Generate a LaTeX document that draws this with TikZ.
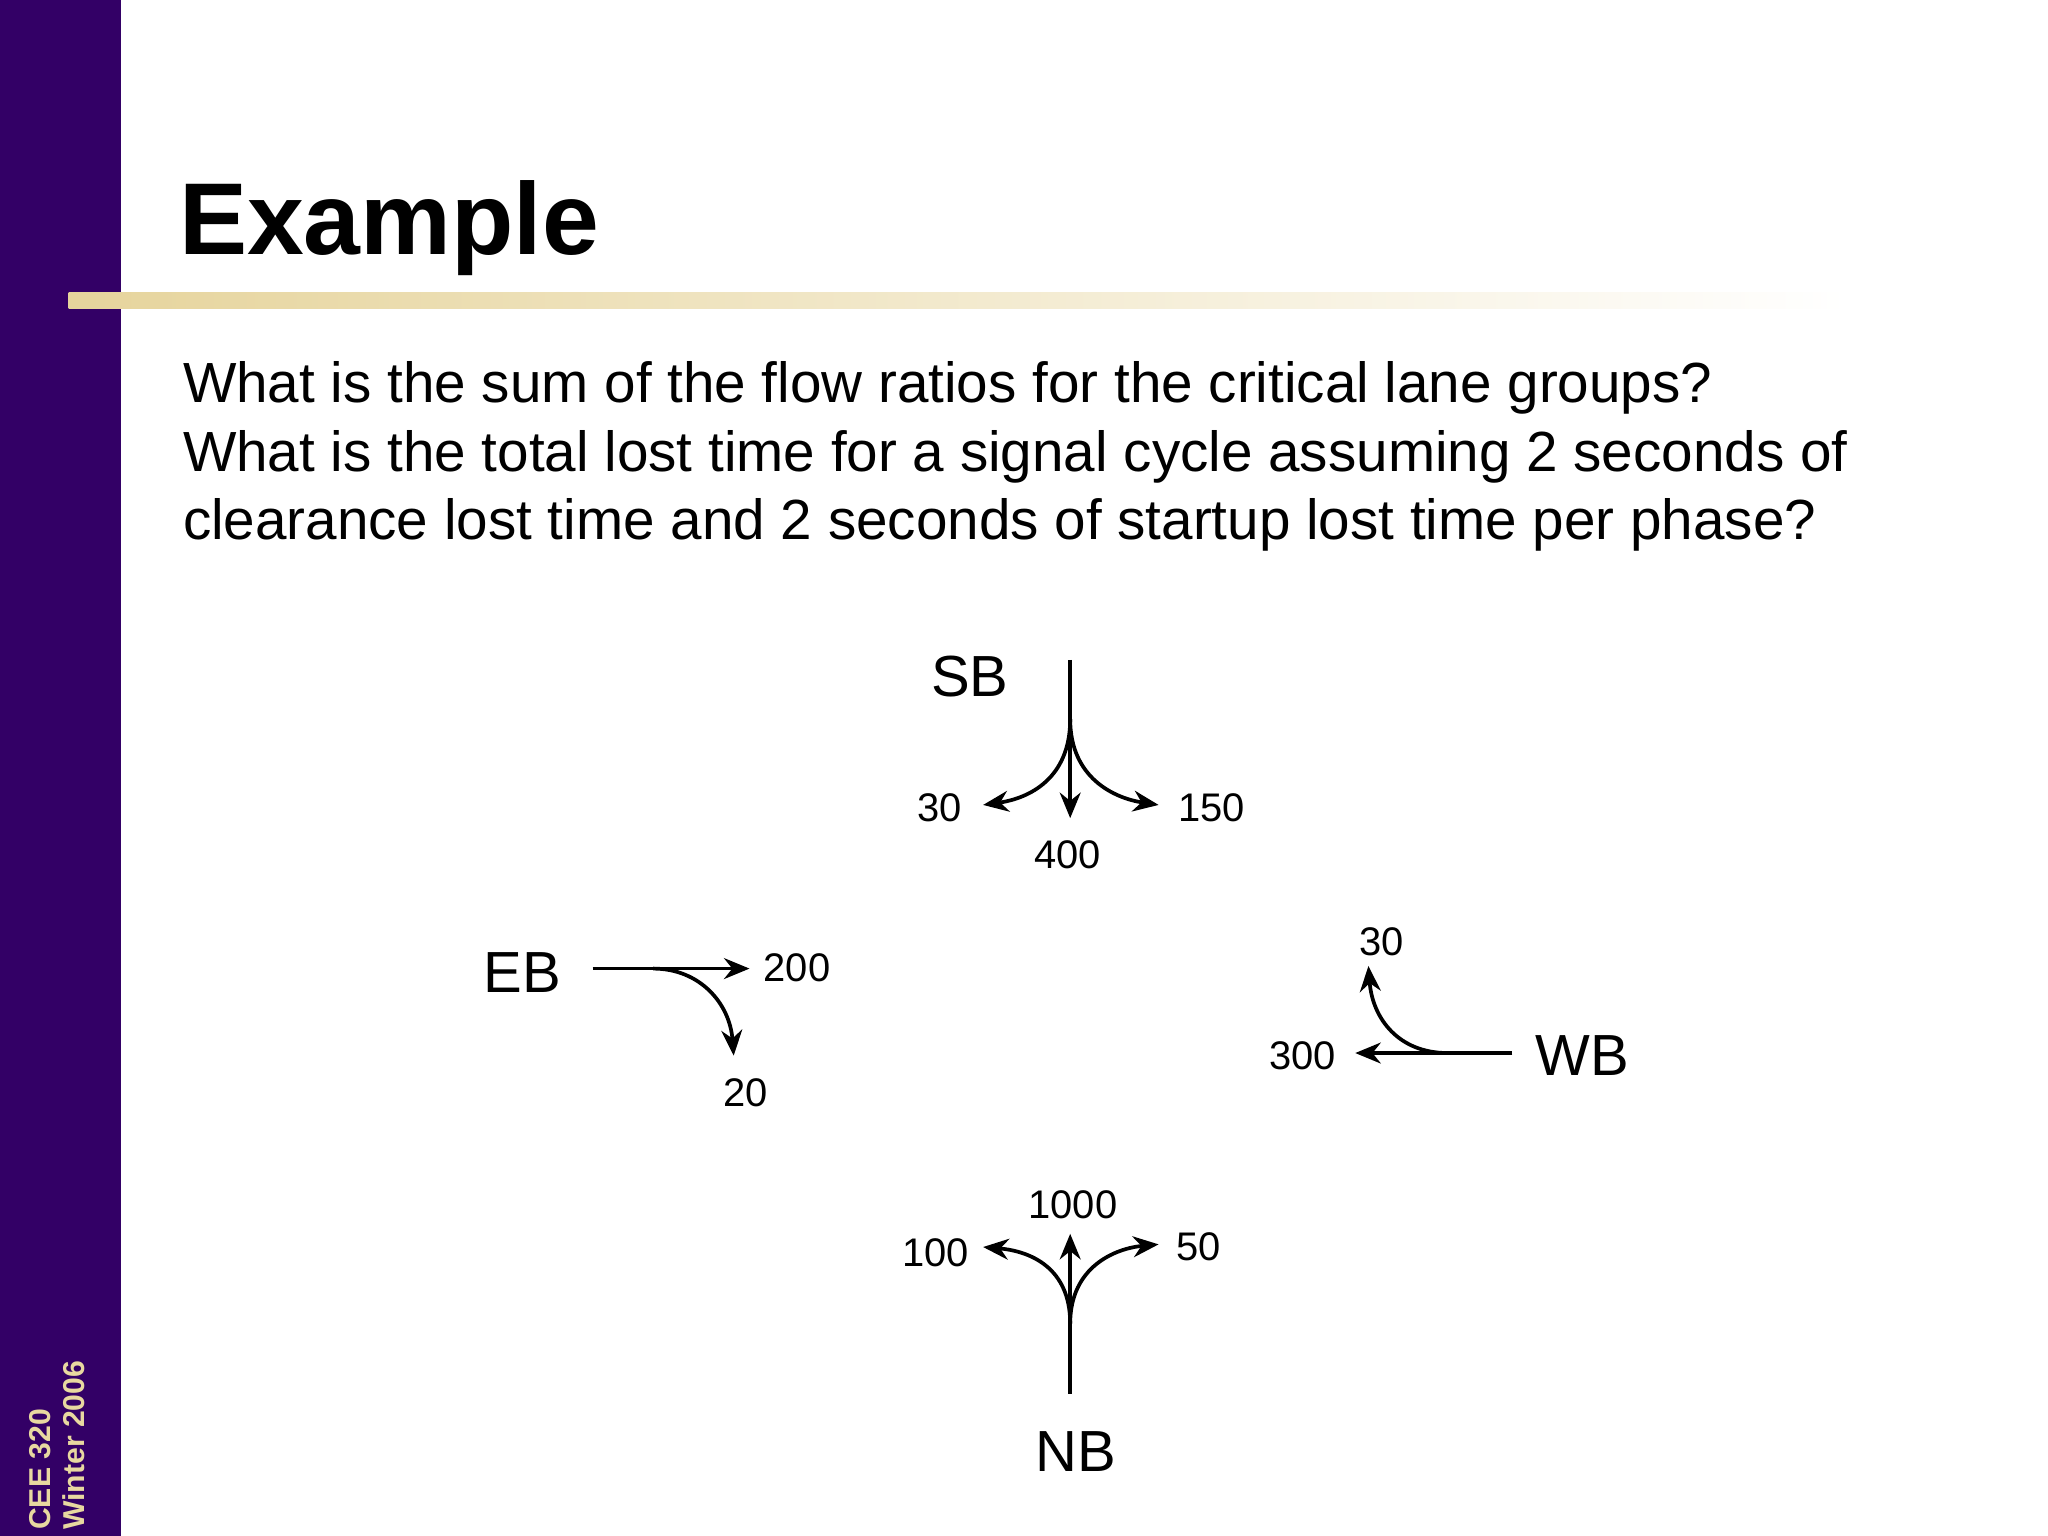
\documentclass[tikz,border=0pt]{standalone}
\usepackage{fontspec}
\setmainfont{Liberation Sans}
\usetikzlibrary{arrows.meta}
\definecolor{barpurple}{HTML}{330066}
\definecolor{gold}{HTML}{E6D49C}
\definecolor{sidegold}{HTML}{E8D8A0}
\begin{document}
\begin{tikzpicture}[x=0.01cm,y=-0.01cm,
  arr/.style={-{Stealth[length=5.5pt,width=4.5pt]},line width=0.8pt},
  num/.style={font=\fontsize{8.6pt}{10pt}\selectfont,inner sep=0pt},
  dir/.style={font=\fontsize{12.5pt}{14pt}\selectfont,inner sep=0pt},
  qline/.style={anchor=base west,inner sep=0pt,font=\fontsize{12.2pt}{14.8pt}\selectfont}]
\useasboundingbox (0,0) rectangle (1552,1164);
\fill[barpurple] (0,0) rectangle (92,1164);
\shade[left color=gold,right color=white] (52,222) rectangle (1400,234);
\node[anchor=base west,inner sep=0pt,font=\fontsize{22pt}{26pt}\selectfont\bfseries] (title) at (135,193) {Example};
\node[qline] (q1) at (138,305) {What is the sum of the flow ratios for the critical lane groups?};
\node[qline] (q2) at (138,357) {What is the total lost time for a signal cycle assuming 2 seconds of};
\node[qline] (q3) at (138,409) {clearance lost time and 2 seconds of startup lost time per phase?};
\node[rotate=90,anchor=base west,inner sep=0pt,text=sidegold,font=\fontsize{6.5pt}{8pt}\selectfont\bfseries] (c1) at (38,1160) {CEE 320};
\node[rotate=90,anchor=base west,inner sep=0pt,text=sidegold,font=\fontsize{6.5pt}{8pt}\selectfont\bfseries] (c2) at (64,1160) {Winter 2006};
% SB
\coordinate (sbtop) at (811,500); \coordinate (sbm) at (811,545);
\coordinate (sbs) at (811,620); \coordinate (sbl) at (745,610); \coordinate (sbr) at (878,610);
\draw[arr] (sbtop) -- (sbs);
\draw[arr] (sbm) .. controls (811,590) and (780,605) .. (sbl);
\draw[arr] (sbm) .. controls (811,590) and (845,605) .. (sbr);
\node[dir] (SB) at (735,513) {SB};
\node[num] (s30) at (712,612) {30};
\node[num] (s400) at (809,648) {400};
\node[num] (s150) at (918,612) {150};
% EB
\coordinate (ebs) at (449,734); \coordinate (ebe) at (568,734); \coordinate (ebm) at (495,734); \coordinate (ebr) at (556,800);
\draw[arr] (ebs) -- (ebe);
\draw[arr] (ebm) .. controls (530,734) and (553,760) .. (ebr);
\node[dir] (EB) at (396,737) {EB};
\node[num] (e200) at (604,733) {200};
\node[num] (e20) at (565,828) {20};
% WB
\coordinate (wbs) at (1146,798); \coordinate (wbe) at (1027,798); \coordinate (wbm) at (1097,798); \coordinate (wbl) at (1037,732);
\draw[arr] (wbs) -- (wbe);
\draw[arr] (wbm) .. controls (1060,798) and (1040,772) .. (wbl);
\node[dir] (WB) at (1199,800) {WB};
\node[num] (w30) at (1047,714) {30};
\node[num] (w300) at (987,800) {300};
% NB
\coordinate (nbb) at (811,1056); \coordinate (nbt) at (811,935); \coordinate (nbm) at (811,1003);
\coordinate (nbl) at (745,945); \coordinate (nbr) at (878,943);
\draw[arr] (nbb) -- (nbt);
\draw[arr] (nbm) .. controls (811,960) and (780,948) .. (nbl);
\draw[arr] (nbm) .. controls (811,960) and (845,946) .. (nbr);
\node[dir] (NB) at (815,1100) {NB};
\node[num] (n1000) at (813,913) {1000};
\node[num] (n100) at (709,949) {100};
\node[num] (n50) at (908,945) {50};
\end{tikzpicture}
\end{document}
